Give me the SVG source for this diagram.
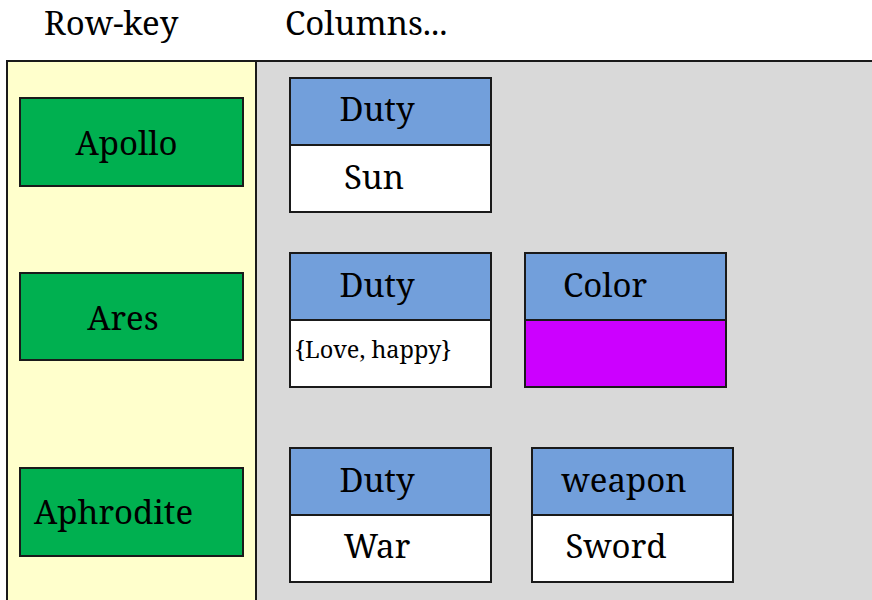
<svg xmlns="http://www.w3.org/2000/svg" width="872" height="600" viewBox="0 0 872 600">
  <style>
    text { font-family: "Noto Serif", "DejaVu Serif", "Liberation Serif", serif; fill: #000; }
    .hd { font-size: 33px; }
    .lbl { font-size: 33px; text-anchor: middle; }
    .small { font-size: 23.5px; }
    .key { fill: #00b050; stroke: #1a1a1a; stroke-width: 2; }
    .col { fill: #729fdb; stroke: #1a1a1a; stroke-width: 2; }
    .val { fill: #ffffff; stroke: #1a1a1a; stroke-width: 2; }
    .panel { stroke: #1a1a1a; stroke-width: 2; }
  </style>

  <rect width="872" height="600" fill="#ffffff"/>

  <!-- column headings -->
  <text class="hd" x="44" y="34.5">Row-key</text>
  <text class="hd" x="285" y="34.5">Columns...</text>

  <!-- panels -->
  <rect class="panel" x="7" y="61" width="249" height="545" fill="#ffffcc"/>
  <rect class="panel" x="256" y="61" width="622" height="545" fill="#d9d9d9"/>

  <!-- row keys -->
  <g id="key-apollo">
    <rect class="key" x="20" y="98" width="223" height="88"/>
    <text class="lbl" x="126.5" y="155">Apollo</text>
  </g>
  <g id="key-ares">
    <rect class="key" x="20" y="273" width="223" height="87"/>
    <text class="lbl" x="123" y="330">Ares</text>
  </g>
  <g id="key-aphrodite">
    <rect class="key" x="20" y="468" width="223" height="88"/>
    <text class="lbl" x="113.5" y="524">Aphrodite</text>
  </g>

  <!-- Apollo columns -->
  <g id="apollo-duty">
    <rect class="col" x="290" y="78" width="201" height="67"/>
    <rect class="val" x="290" y="145" width="201" height="67"/>
    <text class="lbl" x="377" y="121">Duty</text>
    <text class="lbl" x="374" y="189">Sun</text>
  </g>

  <!-- Ares columns -->
  <g id="ares-duty">
    <rect class="col" x="290" y="253" width="201" height="67"/>
    <rect class="val" x="290" y="320" width="201" height="67"/>
    <text class="lbl" x="377" y="297">Duty</text>
    <text class="small" x="295" y="358">{Love, happy}</text>
  </g>
  <g id="ares-color">
    <rect class="col" x="525" y="253" width="201" height="67"/>
    <rect x="525" y="320" width="201" height="67" fill="#cc00ff" stroke="#1a1a1a" stroke-width="2"/>
    <text class="lbl" x="605" y="297">Color</text>
  </g>

  <!-- Aphrodite columns -->
  <g id="aphrodite-duty">
    <rect class="col" x="290" y="448" width="201" height="67"/>
    <rect class="val" x="290" y="515" width="201" height="67"/>
    <text class="lbl" x="377" y="492">Duty</text>
    <text class="lbl" x="377" y="558">War</text>
  </g>
  <g id="aphrodite-weapon">
    <rect class="col" x="532" y="448" width="201" height="67"/>
    <rect class="val" x="532" y="515" width="201" height="67"/>
    <text class="lbl" x="624" y="492">weapon</text>
    <text class="lbl" x="616" y="558">Sword</text>
  </g>
</svg>
